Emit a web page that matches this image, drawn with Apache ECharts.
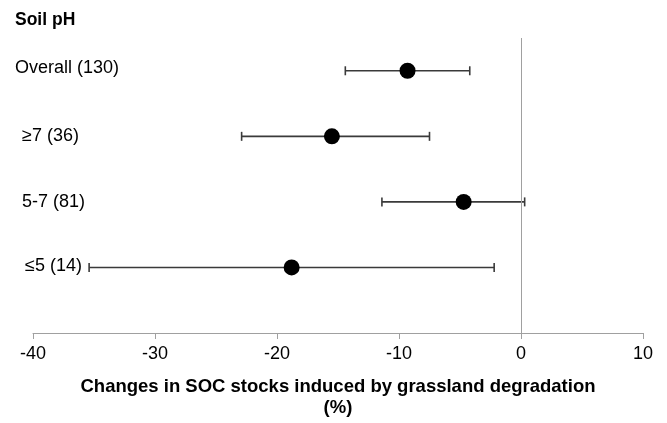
<!DOCTYPE html>
<html>
<head>
<meta charset="utf-8">
<script src="https://cdn.jsdelivr.net/npm/echarts@6/dist/echarts.min.js"></script>
<style>
html,body{margin:0;padding:0;background:#fff;}
#chart{width:667px;height:423px;}
</style>
</head>
<body>
<div id="chart"></div>
<script>
// Groups listed bottom to top (y position = index + 1)
const categories = ['≤5 (14)', '5-7 (81)', '≥7 (36)', 'Overall (130)'];
const means = [-18.8, -4.7, -15.5, -9.3];
const lower = [-35.4, -11.4, -22.9, -14.4];
const upper = [-2.2, 0.3, -7.5, -4.2];
const xTicks = [-40, -30, -20, -10, 0, 10];

const FONT = '"Liberation Sans", Arial, sans-serif';
const chart = echarts.init(document.getElementById('chart'));

const pointData = means.map((m, i) => [m, i + 1]);
const barData = lower.map((lo, i) => [lo, upper[i], i + 1]);

chart.setOption({
  animation: false,
  backgroundColor: '#fff',
  textStyle: { fontFamily: FONT },
  graphic: [{
    type: 'text', left: 15, top: 11,
    style: { text: 'Soil pH', font: 'bold 17.5px ' + FONT, fill: '#000' }
  }],
  grid: { left: 33, right: 24, top: 38, bottom: 84, containLabel: false },
  xAxis: {
    type: 'value', min: xTicks[0], max: xTicks[xTicks.length - 1], interval: 10,
    axisLine: { show: true, lineStyle: { color: '#a0a0a0', width: 1 } },
    axisTick: { show: true, length: 6, lineStyle: { color: '#a0a0a0' } },
    splitLine: { show: false },
    axisLabel: { color: '#000', fontSize: 18, fontFamily: FONT, margin: 12 },
    name: 'Changes in SOC stocks induced by grassland degradation\n(%)',
    nameLocation: 'middle', nameGap: 43,
    nameTextStyle: { color: '#000', fontSize: 18.5, fontWeight: 'bold', fontFamily: FONT, lineHeight: 21 }
  },
  yAxis: {
    type: 'value', min: 0, max: 4.5, interval: 1,
    axisLine: { show: false }, axisTick: { show: false }, splitLine: { show: false },
    axisLabel: {
      show: true, align: 'left', margin: 18,
      formatter: function (v) {
        const i = Math.round(v) - 1;
        if (i < 0 || i >= categories.length || Math.abs(v - Math.round(v)) > 1e-6) return '';
        const key = i === 3 ? 'o' : (i === 0 ? 'q' : 'p');
        return '{' + key + '|' + categories[i] + '}';
      },
      rich: {
        o: { color: '#000', fontSize: 18, fontFamily: FONT, padding: [0, 0, 6, 0] },
        p: { color: '#000', fontSize: 18, fontFamily: FONT, padding: [0, 0, 0, 7] },
        q: { color: '#000', fontSize: 18, fontFamily: FONT, padding: [0, 0, 3, 10] }
      }
    }
  },
  series: [
    {
      type: 'custom',
      data: barData,
      encode: { x: [0, 1], y: 2 },
      z: 2,
      renderItem: function (params, api) {
        const y = api.value(2);
        const p1 = api.coord([api.value(0), y]);
        const p2 = api.coord([api.value(1), y]);
        const h = 4.5;
        const st = { stroke: '#3a3a3a', lineWidth: 1.6 };
        return {
          type: 'group',
          children: [
            { type: 'line', shape: { x1: p1[0], y1: p1[1], x2: p2[0], y2: p2[1] }, style: st },
            { type: 'line', shape: { x1: p1[0], y1: p1[1] - h, x2: p1[0], y2: p1[1] + h }, style: st },
            { type: 'line', shape: { x1: p2[0], y1: p2[1] - h, x2: p2[0], y2: p2[1] + h }, style: st }
          ]
        };
      }
    },
    {
      type: 'scatter',
      data: pointData,
      symbol: 'circle', symbolSize: 16,
      itemStyle: { color: '#000', opacity: 1 },
      z: 3,
      markLine: {
        silent: true, symbol: 'none', label: { show: false },
        lineStyle: { color: '#a0a0a0', width: 1, type: 'solid' },
        data: [{ xAxis: 0 }]
      }
    }
  ]
});
</script>
</body>
</html>
